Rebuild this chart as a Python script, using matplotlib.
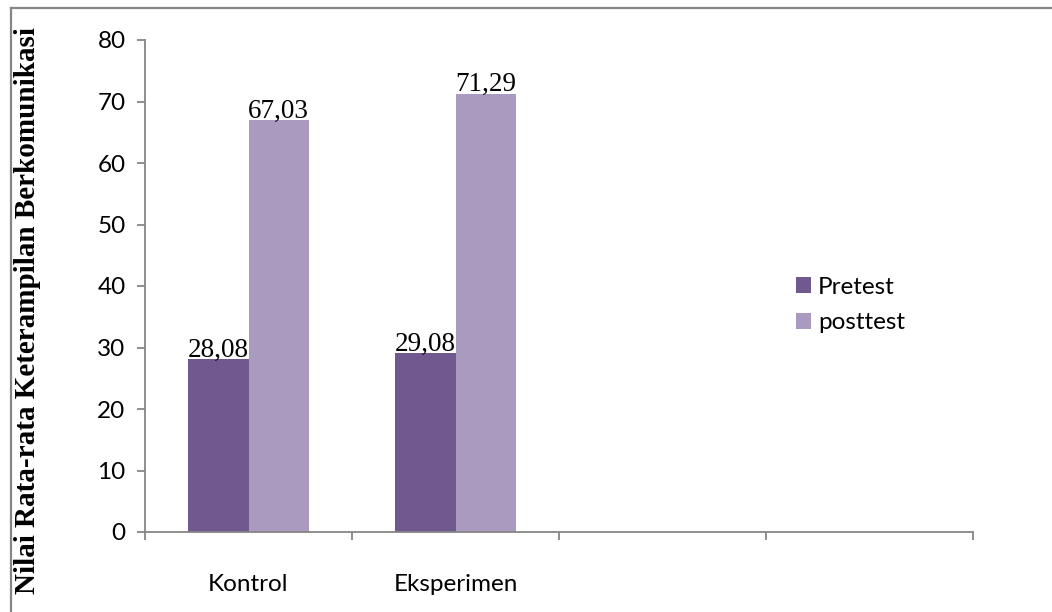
import matplotlib.pyplot as plt
import numpy as np
from matplotlib.lines import Line2D

categories = ["Kontrol", "Eksperimen", "", ""]
pretest = [28.08, 29.08]
posttest = [67.03, 71.29]
pretest_labels = ["28,08", "29,08"]
posttest_labels = ["67,03", "71,29"]

c_pre = "#71598F"
c_post = "#AA9ABF"
grey = "#868686"

fig = plt.figure(figsize=(10.52, 6.12), dpi=100)
ax = fig.add_axes([145 / 1052, 1 - 532 / 612, (973 - 145) / 1052, (532 - 40) / 612])

x = np.arange(len(pretest))
w = 0.29
b1 = ax.bar(x - w / 2, pretest, w, color=c_pre, label="Pretest")
b2 = ax.bar(x + w / 2, posttest, w, color=c_post, label="posttest")

for bars, labels in [(b1, pretest_labels), (b2, posttest_labels)]:
    for rect, lab in zip(bars, labels):
        ax.text(rect.get_x() + rect.get_width() / 2, rect.get_height() - 0.6, lab,
                ha="center", va="bottom", fontsize=19.5,
                family="Liberation Serif")

ax.set_xlim(-0.5, len(categories) - 0.5)
ax.set_ylim(0, 80)
ax.set_yticks(range(0, 81, 10))
ax.set_xticks(range(len(categories)))
ax.set_xticklabels(categories)
ax.set_xticks(np.arange(-0.5, len(categories), 1.0), minor=True)
ax.tick_params(axis="x", which="major", length=0, pad=30, labelsize=17.5)
ax.tick_params(axis="x", which="minor", length=6, width=1.3, color=grey, direction="out")
ax.tick_params(axis="y", length=6, width=1.3, color=grey, direction="out", labelsize=17.5, pad=8)
for lab in ax.get_xticklabels() + ax.get_yticklabels():
    lab.set_family("Lato")

for side in ["top", "right"]:
    ax.spines[side].set_visible(False)
for side in ["left", "bottom"]:
    ax.spines[side].set_color(grey)
    ax.spines[side].set_linewidth(1.3)

fig.text(28 / 1052, 1 - 311 / 612, "Nilai Rata-rata Keterampilan Berkomunikasi",
         rotation=90, ha="center", va="center", fontsize=21, fontweight="bold",
         family="Liberation Serif")

leg = fig.legend(handles=[b1, b2], loc="center left",
                 bbox_to_anchor=(774 / 1052, 1 - 305 / 612), frameon=False,
                 prop={"family": "Lato", "size": 17.5}, handlelength=0.62,
                 handleheight=0.62, handletextpad=0.3, labelspacing=0.6)

# outer chart frame (top and left edges visible in the crop)
fig.add_artist(Line2D([10.5 / 1052, 1], [1 - 7.5 / 612, 1 - 7.5 / 612], color=grey, lw=1.6,
                      transform=fig.transFigure))
fig.add_artist(Line2D([10.5 / 1052, 10.5 / 1052], [0, 1 - 7.5 / 612], color=grey, lw=1.6,
                      transform=fig.transFigure))

fig.savefig("out.png", dpi=100)
